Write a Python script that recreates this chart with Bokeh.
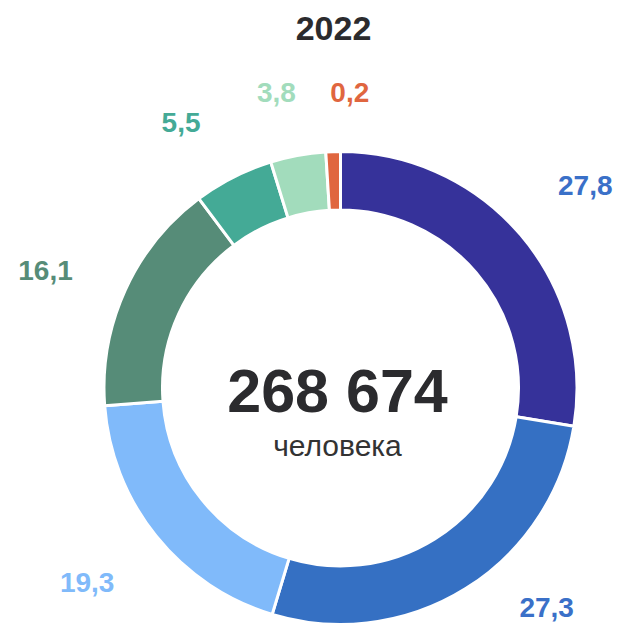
import math
from bokeh.plotting import figure
from bokeh.models import Range1d, ColumnDataSource
from bokeh.core.properties import value
from bokeh.embed import file_html
from bokeh.resources import INLINE

# ---- data ----
title_text = "2022"
total_text = "268 674"
unit_text = "человека"
values = [27.8, 27.3, 19.3, 16.1, 5.5, 3.8, 0.2]
labels = ["27,8", "27,3", "19,3", "16,1", "5,5", "3,8", "0,2"]
colors = ["#36329a", "#3570c3", "#80bafa", "#568c78", "#44aa96", "#a2dcbc", "#e0663f"]
label_colors = ["#3a70c8", "#3a70c8", "#80bafa", "#568c78", "#44aa96", "#a2dcbc", "#e0663f"]

# ---- layout (screen px) ----
W, H = 629, 626
def sy(y):  # screen y -> data y
    return H - y

cx, cy = 340.0, 387.5
R_out, R_in = 236.5, 178.0
MIN_SHARE = 1.0  # minimal displayed share for tiny slices

disp = [max(v, MIN_SHARE) for v in values]
tot = sum(disp)
starts, ends, mids = [], [], []
acc = 0.0
for d in disp:
    a0 = acc / tot * 2 * math.pi
    acc += d
    a1 = acc / tot * 2 * math.pi
    starts.append(math.pi / 2 - a0)
    ends.append(math.pi / 2 - a1)
    mids.append((a0 + a1) / 2)

src = ColumnDataSource(dict(start=starts, end=ends, color=colors))

p = figure(width=W, height=H, output_backend="svg", toolbar_location=None,
           x_range=Range1d(0, W), y_range=Range1d(0, H),
           min_border=0, x_axis_type=None, y_axis_type=None)
p.grid.visible = False
p.outline_line_color = None
p.background_fill_color = "white"
p.border_fill_color = "white"

p.annular_wedge(x=cx, y=sy(cy), inner_radius=R_in, outer_radius=R_out,
                start_angle="start", end_angle="end", direction="clock",
                fill_color="color", line_color="white", line_width=3, source=src)

# data labels
label_r = 312
nudges = [(7, 0), (41, -45), (-10, -1), (-11, 12), (-18, 13), (-8, 11), (19, 16)]
lx, ly = [], []
for m, (dx, dy) in zip(mids, nudges):
    x = cx + label_r * math.sin(m) + dx
    y = cy - label_r * math.cos(m) + dy
    lx.append(x)
    ly.append(sy(y))
lsrc = ColumnDataSource(dict(x=lx, y=ly, t=labels, c=label_colors))
p.text(x="x", y="y", text="t", text_color="c", source=lsrc,
       text_font=value("Liberation Sans"), text_font_style="bold",
       text_font_size="28px", text_align="center", text_baseline="middle")

# title
p.text(x=[333], y=[sy(27.5)], text=[title_text], text_color="#2b2b2e",
       text_font=value("Liberation Sans"), text_font_style="bold",
       text_font_size="34px", text_align="center", text_baseline="middle")
# center texts
p.text(x=[337], y=[sy(390)], text=[total_text], text_color="#2b2b2e",
       text_font=value("Liberation Sans"), text_font_style="bold",
       text_font_size="61px", text_align="center", text_baseline="middle")
p.text(x=[337], y=[sy(445)], text=[unit_text], text_color="#333333",
       text_font=value("Liberation Sans"),
       text_font_size="30px", text_align="center", text_baseline="middle")

open("out.html", "w").write(file_html(p, INLINE))
